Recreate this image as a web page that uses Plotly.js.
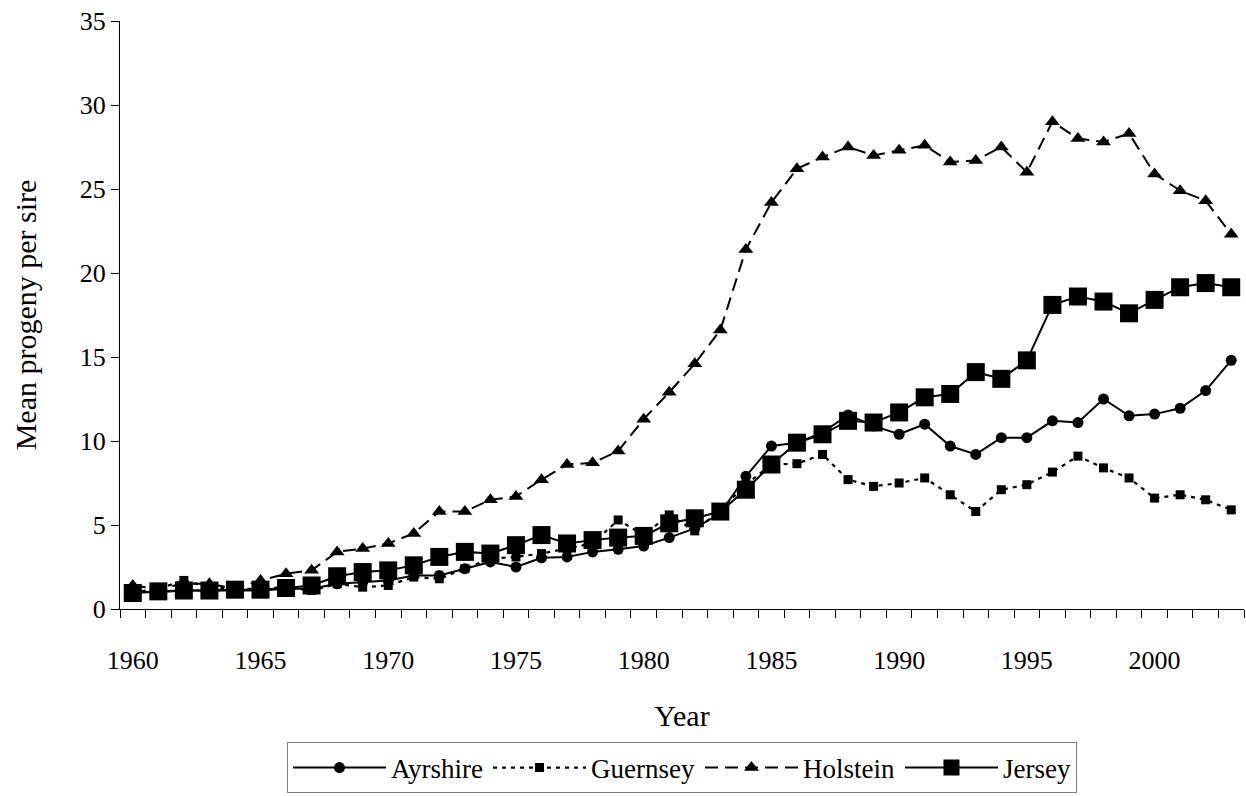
<!DOCTYPE html>
<html>
<head>
<meta charset="utf-8">
<script src="https://cdn.plot.ly/plotly-3.0.1.min.js"></script>
<style>
  html, body { margin: 0; padding: 0; background: #ffffff; }
  #chart { width: 1246px; height: 796px; }
</style>
</head>
<body>
<div id="chart"></div>
<script>
const years = [1960,1961,1962,1963,1964,1965,1966,1967,1968,1969,1970,1971,1972,1973,1974,1975,1976,1977,1978,1979,1980,1981,1982,1983,1984,1985,1986,1987,1988,1989,1990,1991,1992,1993,1994,1995,1996,1997,1998,1999,2000,2001,2002,2003];

const ayrshire = [1.0,1.0,1.1,1.1,1.1,1.1,1.2,1.2,1.5,1.6,1.7,2.0,2.0,2.4,2.8,2.5,3.05,3.1,3.4,3.55,3.75,4.25,4.8,5.7,7.9,9.7,9.9,10.5,11.55,10.9,10.4,11.0,9.7,9.2,10.2,10.2,11.2,11.1,12.5,11.5,11.6,11.95,13.0,14.8];

const guernsey = [1.0,1.2,1.7,1.3,1.2,1.2,1.3,1.1,1.5,1.3,1.4,1.9,1.8,2.4,3.0,3.1,3.3,3.6,3.9,5.3,4.4,5.6,4.65,5.9,7.4,8.6,8.65,9.2,7.7,7.3,7.5,7.8,6.8,5.8,7.1,7.4,8.15,9.1,8.4,7.8,6.6,6.8,6.5,5.9];

const holstein = [1.4,1.2,1.5,1.5,1.2,1.7,2.1,2.3,3.4,3.6,3.9,4.5,5.8,5.8,6.5,6.7,7.7,8.6,8.7,9.4,11.3,12.9,14.6,16.6,21.4,24.2,26.2,26.9,27.5,27.0,27.3,27.6,26.6,26.7,27.5,26.0,29.0,28.0,27.8,28.3,25.9,24.9,24.3,22.3];

const jersey = [0.95,1.05,1.1,1.1,1.15,1.15,1.25,1.4,1.95,2.2,2.3,2.6,3.1,3.4,3.3,3.8,4.4,3.9,4.1,4.25,4.35,5.1,5.4,5.8,7.1,8.6,9.9,10.4,11.2,11.1,11.7,12.6,12.8,14.1,13.7,14.8,18.1,18.6,18.3,17.6,18.4,19.15,19.4,19.15];

const tickYears = [1960,1965,1970,1975,1980,1985,1990,1995,2000];
const tickLabels = ["1960","1965","1970","1975","1980","1985","1990","1995","2000"];

const seriesNames = ["Ayrshire","Guernsey","Holstein","Jersey"];

const FONT = 'Times New Roman';

const traces = [
  {
    x: years, y: ayrshire, name: seriesNames[0], type: 'scatter', mode: 'lines+markers',
    line: {color: '#000000', width: 2, dash: 'solid'},
    marker: {symbol: 'circle', size: 11, color: '#000000'}
  },
  {
    x: years, y: guernsey, name: seriesNames[1], type: 'scatter', mode: 'lines+markers',
    line: {color: '#000000', width: 2.2, dash: '4px,5px'},
    marker: {symbol: 'square', size: 9, color: '#000000'}
  },
  {
    x: years, y: holstein, name: seriesNames[2], type: 'scatter', mode: 'lines+markers',
    line: {color: '#000000', width: 2, dash: '13px,7px'},
    marker: {symbol: 'triangle-up', size: 13, color: '#000000'}
  },
  {
    x: years, y: jersey, name: seriesNames[3], type: 'scatter', mode: 'lines+markers',
    line: {color: '#000000', width: 2, dash: 'solid'},
    marker: {symbol: 'square', size: 18, color: '#000000'}
  }
];

const layout = {
  width: 1246, height: 796,
  margin: {l: 120, r: 2, t: 21, b: 184},
  paper_bgcolor: '#ffffff', plot_bgcolor: '#ffffff',
  font: {family: FONT, size: 26, color: '#000000'},
  showlegend: true,
  legend: {
    orientation: 'h', x: 0.5, xanchor: 'center', y: -0.227, yanchor: 'top',
    bordercolor: '#808080', borderwidth: 1, bgcolor: '#ffffff',
    font: {family: FONT, size: 27, color: '#000000'},
    itemwidth: 93, tracegroupgap: 0
  },
  xaxis: {
    type: 'linear', range: [1959.5, 2003.5],
    tickmode: 'array', tickvals: tickYears, ticktext: tickLabels,
    ticks: '', showline: true, linecolor: '#000000', linewidth: 1,
    showgrid: false, zeroline: false,
    ticklabelstandoff: 28,
    tickfont: {family: FONT, size: 26, color: '#000000'},
    minor: {tick0: 1959.5, dtick: 1, ticks: 'outside', ticklen: 8, tickcolor: '#000000', tickwidth: 1, showgrid: false},
    title: {text: 'Year', font: {family: FONT, size: 30, color: '#000000'}, standoff: 30}
  },
  yaxis: {
    range: [0, 35], tickmode: 'linear', tick0: 0, dtick: 5,
    ticks: 'outside', ticklen: 8, tickcolor: '#000000', tickwidth: 1,
    showline: true, linecolor: '#000000', linewidth: 1,
    showgrid: false, zeroline: false,
    tickfont: {family: FONT, size: 26, color: '#000000'},
    title: {text: 'Mean progeny per sire', font: {family: FONT, size: 30, color: '#000000'}, standoff: 34}
  }
};

Plotly.newPlot('chart', traces, layout, {displayModeBar: false, staticPlot: true});
</script>
</body>
</html>
